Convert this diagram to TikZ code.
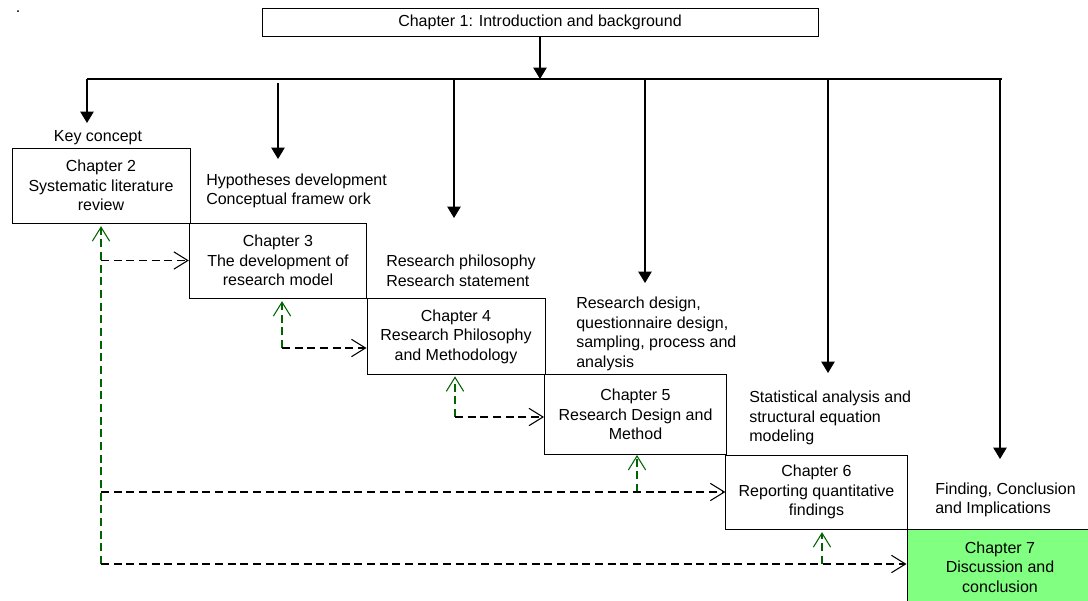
\documentclass[tikz,border=0pt]{standalone}
\usepackage{fontspec}
\setmainfont{Liberation Sans}
\usetikzlibrary{arrows.meta}
\definecolor{chapgreen}{RGB}{128,255,128}
\definecolor{backgreen}{RGB}{0,100,0}
\begin{document}
\begin{tikzpicture}[x=0.75pt,y=-0.75pt,
   txt/.style={inner sep=0pt,font=\fontsize{12}{14.6}\selectfont},
   chap/.style={txt,draw,line width=0.75pt,align=center},
   lab/.style={txt,align=left,anchor=west},
   fall/.style={line width=0.9pt,-{Triangle[width=10pt,length=8.5pt]}},
   link/.style={line width=0.8pt,dash pattern=on 6pt off 3.5pt,-{Straight Barb[width=13pt,length=10.5pt]}},
   back/.style={link,color=backgreen}]
\useasboundingbox (0,0) rectangle (1088,600);
 % chapters
 \node[chap,minimum width=417pt,minimum height=20.5pt] (intro) at (540,22.5) {Chapter 1: Introduction and background};
 \node[chap,minimum width=133.5pt,minimum height=56.25pt] (review) at (101,185.5) {Chapter 2\\Systematic literature\\review};
 \node[chap,minimum width=133pt,minimum height=56.25pt] (model) at (278,260.5) {Chapter 3\\The development of\\research model};
 \node[chap,minimum width=133.5pt,minimum height=57pt] (method) at (456,336.5) {Chapter 4\\Research Philosophy\\and Methodology};
 \node[chap,minimum width=136.5pt,minimum height=60pt] (design) at (635.5,414.5) {Chapter 5\\Research Design and\\Method};
 \node[chap,minimum width=136pt,minimum height=55.5pt] (report) at (816.5,492) {Chapter 6\\Reporting quantitative\\findings};
 \node[chap,fill=chapgreen,minimum width=139.5pt,minimum height=57pt] (discuss) at (1000,567) {Chapter 7\\Discussion and\\conclusion};
 % side notes
 \node[txt] (dot) at (18,12) {.};
 \node[txt] (keycon) at (98,138) {Key concept};
 \node[lab] (hypo) at (206,191) {Hypotheses development\\Conceptual framew ork};
 \node[lab] (philo) at (386,271) {Research philosophy\\Research statement};
 \node[lab] (resdes) at (576,334) {Research design,\\questionnaire design,\\sampling, process and\\analysis};
 \node[lab] (stats) at (749,418) {Statistical analysis and\\structural equation\\modeling};
 \node[lab] (findg) at (935,500) {Finding, Conclusion\\and Implications};
 % bus from chapter 1
 \coordinate (busl) at (87,79);
 \coordinate (busr) at (1002,79);
 \draw[line width=0.9pt] (busl) -- (busr);
 \draw[fall] (intro.south) -- (intro.south |- busl);
 \foreach \x/\y/\t [count=\i] in {87/79/123, 278/83/159, 454/79/218, 645/79/283, 828/79/373, 1000/79/459}{
   \coordinate (top\i) at (\x,\y);
   \coordinate (tip\i) at (\x,\t);
   \draw[fall] (top\i) -- (tip\i);
 }
 % links back and forth
 \coordinate (j2) at (101,564);
 \coordinate (j3) at (282,348);
 \coordinate (j4) at (455,417);
 \coordinate (j5) at (637,492);
 \coordinate (j6) at (822,564);
 \draw[back,shorten >=2pt] (j2) -- (j2 |- review.south);
 \draw[back,shorten >=2pt] (j3) -- (j3 |- model.south);
 \draw[back,shorten >=1pt] (j4) -- (j4 |- method.south);
 \draw[back] (j5) -- (j5 |- design.south);
 \draw[back,shorten >=2pt] (j6) -- (j6 |- report.south);
 \draw[link] (j2 |- model.west) -- (model.west);
 \draw[link] (j2 |- report.west) -- (report.west);
 \draw[link] (j2) -- (j2 -| discuss.west);
 \draw[link] (j3) -- (j3 -| method.west);
 \draw[link] (j4) -- (j4 -| design.west);
\end{tikzpicture}
\end{document}
